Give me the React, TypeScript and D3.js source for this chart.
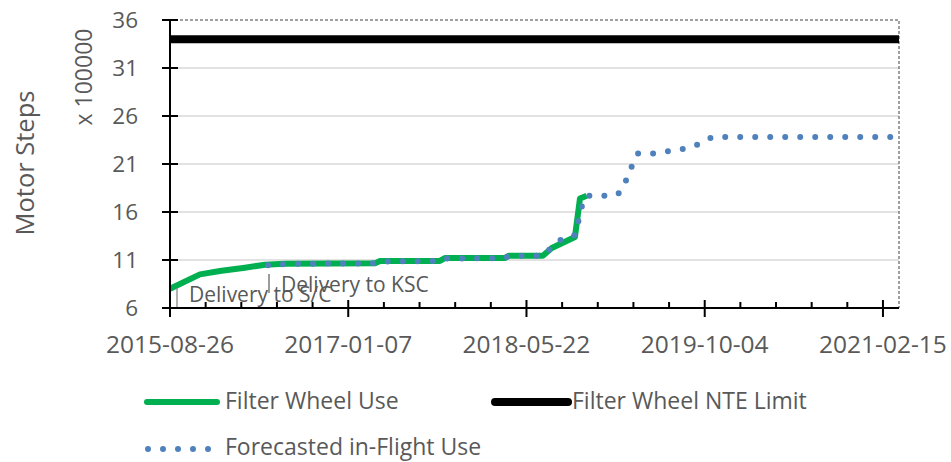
import React from "react";
import * as d3 from "d3";

const useDates = ["2015-08-26","2015-11-18","2016-01-13","2016-03-23","2016-05-18","2016-07-13","2017-03-23","2017-04-06","2017-09-21","2017-10-05","2018-03-22","2018-04-03","2018-07-07","2018-08-01","2018-10-05","2018-10-19","2018-11-07"];
const useValues = [8.0,9.5,9.85,10.2,10.5,10.6,10.65,10.9,10.9,11.2,11.2,11.45,11.45,12.25,13.4,17.4,17.7];

const forecastDates = ["2016-05-27","2016-07-27","2017-03-23","2017-04-06","2017-09-21","2017-10-05","2018-03-22","2018-04-05","2018-07-07","2018-08-01","2018-09-04","2018-10-05","2018-10-19","2018-10-30","2018-11-16","2019-01-25","2019-02-11","2019-02-28","2019-03-16","2019-03-30","2019-05-17","2019-08-09","2019-09-20","2019-10-24","2021-03-20"];
const forecastValues = [10.45,10.6,10.65,10.85,10.9,11.15,11.2,11.45,11.45,12.3,13.4,13.6,15.7,17.5,17.7,17.7,18.1,19.5,21.0,22.1,22.1,22.6,23.1,23.8,23.8];

const limitDates = ["2015-08-26","2021-04-01"];
const limitValues = [34,34];

const xTickLabels = ["2015-08-26","2017-01-07","2018-05-22","2019-10-04","2021-02-15"];
const yTicks = [6,11,16,21,26,31,36];

const seriesNames = ["Filter Wheel Use","Filter Wheel NTE Limit","Forecasted in-Flight Use"];

const parse = d3.utcParse("%Y-%m-%d");
const FONT = "'Open Sans', sans-serif";
const GRAY = "#595959";

export default function App() {
  const left = 170, right = 899, top = 20, bottom = 308;
  const x = d3.scaleUtc().domain([parse("2015-08-26")!, parse("2021-04-01")!]).range([left, right]);
  const y = d3.scaleLinear().domain([6, 36]).range([bottom, top]);

  const line = d3.line<[Date, number]>().x(d => x(d[0])).y(d => y(d[1]));
  const usePts = useDates.map((d, i) => [parse(d)!, useValues[i]] as [Date, number]);
  const fcPts = forecastDates.map((d, i) => [parse(d)!, forecastValues[i]] as [Date, number]);
  const limPts = limitDates.map((d, i) => [parse(d)!, limitValues[i]] as [Date, number]);

  const start = parse(xTickLabels[0])!;
  const end = x.domain()[1];
  const minor: Date[] = [];
  for (let i = 0; ; i++) {
    const d = d3.utcDay.offset(start, i * 100);
    if (d > end) break;
    if (i % 5 !== 0) minor.push(d);
  }

  return (
    <svg width={951} height={462} style={{ position: "absolute", left: 0, top: 0, background: "#fff" }}>
      {/* gridlines */}
      {yTicks.filter(t => t !== 6 && t !== 36).map(t => (
        <line key={t} x1={left + 8} x2={right} y1={y(t)} y2={y(t)} stroke="#d9d9d9" strokeWidth={1.5} />
      ))}
      {/* dashed plot border */}
      <path d={`M${left},${top}H${right}V${bottom}`} fill="none" stroke="#404040" strokeWidth={1} strokeDasharray="3,2" />

      {/* series */}
      <path d={line(usePts)!} fill="none" stroke="#00b050" strokeWidth={6} strokeLinejoin="round" />
      <path d={line(limPts)!} fill="none" stroke="#000" strokeWidth={8} />
      <path d={line(fcPts)!} fill="none" stroke="#4f81bd" strokeWidth={6} strokeLinecap="round" strokeDasharray="0,15" />

      {/* annotations */}
      <line x1={177} x2={177} y1={288} y2={307} stroke="#7f7f7f" strokeWidth={1.2} />
      <text x={189} y={302} fontFamily={FONT} fontSize={21} fill={GRAY}>Delivery to S/C</text>
      <line x1={269} x2={269} y1={274} y2={293} stroke="#595959" strokeWidth={1.2} />
      <text x={281} y={292} fontFamily={FONT} fontSize={21} fill={GRAY}>Delivery to KSC</text>

      {/* y axis */}
      <line x1={left} x2={left} y1={top} y2={317} stroke="#000" strokeWidth={2} />
      {yTicks.map(t => (
        <g key={t}>
          <line x1={162} x2={178} y1={y(t)} y2={y(t)} stroke="#000" strokeWidth={2} />
          <text x={138} y={y(t)} dy="0.36em" textAnchor="end" fontFamily={FONT} fontSize={22.5} fill={GRAY}>{t}</text>
        </g>
      ))}
      {/* x axis */}
      <line x1={left} x2={right} y1={bottom} y2={bottom} stroke="#000" strokeWidth={2} />
      {minor.map((d, i) => (
        <line key={i} x1={x(d)} x2={x(d)} y1={302} y2={bottom} stroke="#000" strokeWidth={2} />
      ))}
      {xTickLabels.map(s => {
        const xx = x(parse(s)!);
        return (
          <g key={s}>
            <line x1={xx} x2={xx} y1={300} y2={317} stroke="#000" strokeWidth={2} />
            <text x={xx} y={353} textAnchor="middle" fontFamily={FONT} fontSize={24.5} fill={GRAY}>{s}</text>
          </g>
        );
      })}

      {/* axis titles */}
      <text transform="translate(34,163) rotate(-90)" textAnchor="middle" fontFamily={FONT} fontSize={25.5} fill={GRAY}>Motor Steps</text>
      <text transform="translate(92,77) rotate(-90)" textAnchor="middle" fontFamily={FONT} fontSize={23} fill={GRAY}>x 100000</text>

      {/* legend */}
      <line x1={147} x2={217} y1={402} y2={402} stroke="#00b050" strokeWidth={6} strokeLinecap="round" />
      <text x={225} y={409} fontFamily={FONT} fontSize={23} fill={GRAY}>{seriesNames[0]}</text>
      <line x1={495} x2={568} y1={402} y2={402} stroke="#000" strokeWidth={8} strokeLinecap="round" />
      <text x={572} y={409} fontFamily={FONT} fontSize={23} fill={GRAY}>{seriesNames[1]}</text>
      <line x1={148} x2={209} y1={449} y2={449} stroke="#4f81bd" strokeWidth={6} strokeLinecap="round" strokeDasharray="0,15" />
      <text x={225} y={455} fontFamily={FONT} fontSize={23} fill={GRAY}>{seriesNames[2]}</text>
    </svg>
  );
}
